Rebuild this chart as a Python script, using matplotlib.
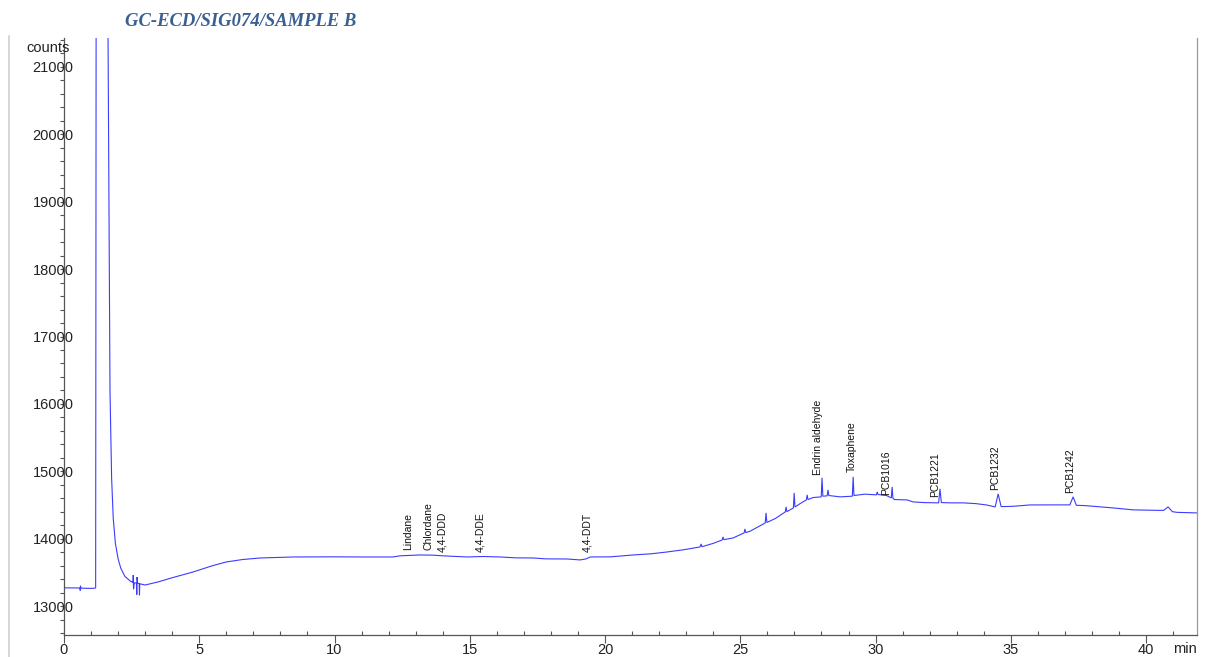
import matplotlib
matplotlib.use("Agg")
import matplotlib.pyplot as plt
from matplotlib import font_manager
from matplotlib.lines import Line2D
from matplotlib.ticker import MultipleLocator

# ---------------- data ----------------
time_min = [
    0.00, 0.55, 0.59, 0.60, 0.61, 0.63, 1.00, 1.15, 1.17, 1.19, 1.60, 1.63, 1.70, 1.76,
    1.82, 1.90, 2.00, 2.10, 2.25, 2.45, 2.55, 2.56, 2.57, 2.60, 2.68, 2.69, 2.70, 2.72,
    2.78, 2.79, 2.80, 3.00, 3.50, 4.00, 4.77, 5.50, 6.00, 6.60, 7.25, 8.47, 10.0, 11.0,
    12.16, 12.42, 13.16, 13.64, 14.00, 14.90, 15.50, 16.12, 16.70, 17.34, 17.80, 18.60,
    19.08, 19.30, 19.45, 20.20, 21.04, 21.70, 22.29, 22.90, 23.51, 23.55, 23.58, 24.00,
    24.33, 24.36, 24.39, 24.73, 25.14, 25.17, 25.20, 25.36, 25.92, 25.95, 25.98, 26.30,
    26.66, 26.69, 26.72, 26.96, 26.99, 27.02, 27.21, 27.44, 27.47, 27.50, 27.69, 27.99,
    28.02, 28.05, 28.21, 28.24, 28.27, 28.69, 29.14, 29.17, 29.20, 29.60, 30.03, 30.06,
    30.09, 30.40, 30.58, 30.61, 30.64, 30.70, 31.16, 31.39, 31.80, 32.33, 32.38, 32.43,
    32.80, 33.23, 33.70, 34.10, 34.42, 34.53, 34.64, 35.08, 35.70, 36.34, 37.00, 37.18,
    37.30, 37.42, 37.75, 38.30, 38.78, 39.52, 40.40, 40.65, 40.81, 40.97, 41.15, 41.88,
]
counts = [
    13270, 13268, 13268, 13230, 13300, 13265, 13262, 13265, 13275, 23000, 23000, 21300, 16200, 14900,
    14300, 13930, 13700, 13560, 13440, 13370, 13350, 13460, 13250, 13345, 13340, 13170, 13430, 13338,
    13335, 13160, 13330, 13312, 13360, 13420, 13505, 13600, 13654, 13690, 13713, 13728, 13730, 13728,
    13728, 13745, 13758, 13755, 13745, 13728, 13735, 13728, 13715, 13713, 13700, 13698,
    13684, 13700, 13728, 13730, 13758, 13775, 13802, 13835, 13877, 13921, 13880, 13930,
    13981, 14025, 13985, 14010, 14085, 14144, 14090, 14110, 14233, 14382, 14240, 14300,
    14397, 14471, 14400, 14456, 14679, 14470, 14520, 14575, 14650, 14580, 14610, 14620,
    14902, 14630, 14635, 14724, 14640, 14620, 14630, 14917, 14640, 14660, 14650, 14694,
    14655, 14640, 14605, 14768, 14600, 14580, 14575, 14545, 14535, 14531, 14739, 14535,
    14531, 14531, 14520, 14500, 14471, 14664, 14475, 14480, 14500, 14501, 14500, 14501,
    14620, 14495, 14490, 14471, 14456, 14427, 14420, 14420, 14471, 14400, 14390, 14382,
]

peak_names = ["Lindane", "Chlordane", "4,4-DDD", "4,4-DDE", "4,4-DDT", "Endrin aldehyde",
              "Toxaphene", "PCB1016", "PCB1221", "PCB1232", "PCB1242"]
peak_label_time = [12.72, 13.46, 14.00, 15.38, 19.33, 27.87, 29.13, 30.40, 32.20, 34.42, 37.19]
peak_label_base = [13832, 13832, 13802, 13802, 13802, 14947, 14991, 14650, 14620, 14724, 14679]

x_ticks = [0, 5, 10, 15, 20, 25, 30, 35, 40]
y_ticks = [13000, 14000, 15000, 16000, 17000, 18000, 19000, 20000, 21000]

# ---------------- fonts ----------------
available = {f.name for f in font_manager.fontManager.ttflist}
label_font = next((f for f in ["Liberation Sans Narrow", "DejaVu Sans Condensed",
                               "Liberation Sans"] if f in available), "DejaVu Sans")
tick_font = "Liberation Sans" if "Liberation Sans" in available else "DejaVu Sans"
title_font = "Liberation Serif" if "Liberation Serif" in available else "DejaVu Serif"

W, H = 1206, 657
fig = plt.figure(figsize=(W / 100, H / 100), dpi=100)
ax = fig.add_axes([64 / W, 1 - 635 / H, (1197 - 64) / W, (635 - 38) / H])

ax.plot(time_min, counts, color="#3c3cff", lw=0.8, solid_joinstyle="miter")

ax.set_xlim(0, 41.88)
ax.set_ylim(12570, 21430)

ax.set_xticks(x_ticks)
ax.set_yticks(y_ticks)
ax.xaxis.set_minor_locator(MultipleLocator(1))
ax.yaxis.set_minor_locator(MultipleLocator(200))

ax.tick_params(axis="x", which="major", direction="out", length=6, width=0.8,
               color="#555555", pad=0, labelsize=10.5)
ax.tick_params(axis="x", which="minor", direction="in", length=3, width=0.8, color="#555555")
ax.tick_params(axis="y", which="major", direction="out", length=3, width=0.8,
               color="#555555", pad=-10, labelsize=10.5)
ax.tick_params(axis="y", which="minor", direction="out", length=3, width=0.8, color="#555555")
for lab in ax.get_xticklabels() + ax.get_yticklabels():
    lab.set_fontfamily(tick_font)
    lab.set_color("#222222")

ax.spines["top"].set_visible(False)
ax.spines["left"].set_color("#555555")
ax.spines["bottom"].set_color("#555555")
ax.spines["right"].set_color("#9a9a9a")
for s in ax.spines.values():
    s.set_linewidth(0.9)

for name, t, b in zip(peak_names, peak_label_time, peak_label_base):
    ax.text(t, b, name, rotation=90, ha="center", va="bottom", fontsize=7.5,
            family=label_font, color="#111111")

fig.text(70 / W, 1 - 48 / H, "counts", ha="right", va="center", fontsize=10.5,
         family=tick_font, color="#222222")
fig.text(1185 / W, 1 - 649 / H, "min", ha="center", va="center", fontsize=10.5,
         family=tick_font, color="#222222")
fig.text(125 / W, 1 - 22 / H, "GC-ECD/SIG074/SAMPLE B", ha="left", va="center",
         fontsize=13.4, family=title_font, fontweight="bold", fontstyle="italic",
         color="#3a5f91")

fig.add_artist(Line2D([9 / W, 9 / W], [0, 1 - 36 / H], transform=fig.transFigure,
                      color="#cfcfcf", lw=1.2))

fig.savefig("out.png", dpi=100)
